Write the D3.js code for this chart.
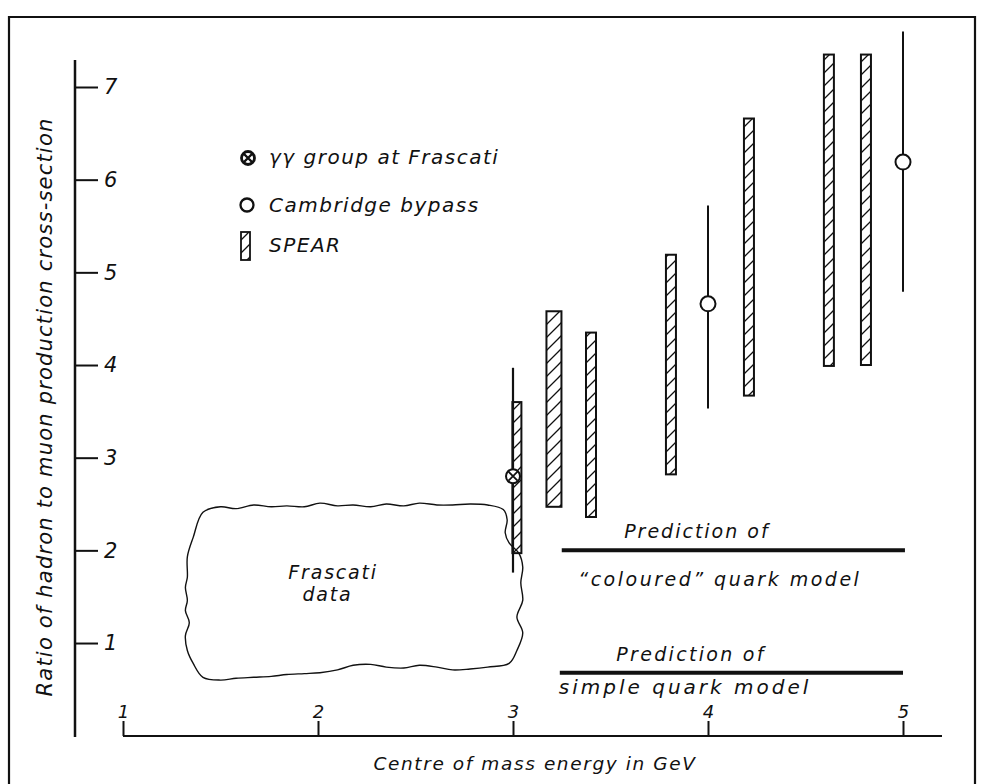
<!DOCTYPE html>
<html>
<head>
<meta charset="utf-8">
<script src="https://cdn.jsdelivr.net/npm/d3@7/dist/d3.min.js"></script>
<style>
  html, body { margin: 0; padding: 0; background: #fff; }
  svg { display: block; }
  text { font-family: "DejaVu Sans", sans-serif; font-style: italic; fill: #111; }
</style>
</head>
<body>
<svg id="chart" width="983" height="784"></svg>
<script>
// ---------------- data ----------------
const energyTicks = [1, 2, 3, 4, 5];
const ratioTicks = [1, 2, 3, 4, 5, 6, 7];

// SPEAR (hatched bars: low..high)
const spearE    = [3.02, 3.21, 3.40, 3.81, 4.21, 4.62, 4.81];
const spearLow  = [1.97, 2.47, 2.36, 2.82, 3.67, 3.99, 4.00];
const spearHigh = [3.60, 4.58, 4.35, 5.19, 6.66, 7.35, 7.35];

// Cambridge bypass (open circles with error bars)
const cambE    = [4.0, 5.0];
const cambR    = [4.66, 6.19];
const cambLow  = [3.53, 4.79];
const cambHigh = [5.72, 7.60];

// gamma-gamma group at Frascati
const frasE    = [3.0];
const frasR    = [2.80];
const frasLow  = [1.76];
const frasHigh = [3.97];

// model predictions (horizontal lines)
const predR     = [2.0, 0.68];
const predStart = [3.25, 3.24];
const predEnd   = [5.01, 5.0];
const predTop   = ["Prediction of", "Prediction of"];
const predBot   = ["\u201Ccoloured\u201D quark model", "simple quark model"];

// Frascati data region outline [energy, ratio]
const frascatiE = [1.41, 1.50, 1.58, 1.67, 1.76, 1.84, 1.93, 2.01, 2.10, 2.18, 2.27, 2.35, 2.44, 2.52, 2.61, 2.69, 2.78, 2.87, 2.95, 2.97, 2.96, 2.98, 3.03, 3.05, 3.04, 3.05, 3.02, 3.05, 3.02, 2.98, 2.87, 2.78, 2.69, 2.61, 2.52, 2.44, 2.35, 2.27, 2.18, 2.10, 2.01, 1.93, 1.84, 1.76, 1.67, 1.58, 1.50, 1.41, 1.36, 1.33, 1.32, 1.34, 1.32, 1.33, 1.32, 1.33, 1.33, 1.36];
const frascatiR = [2.41, 2.47, 2.45, 2.49, 2.47, 2.48, 2.47, 2.51, 2.48, 2.49, 2.47, 2.50, 2.48, 2.51, 2.49, 2.49, 2.50, 2.49, 2.44, 2.33, 2.19, 2.08, 1.97, 1.82, 1.65, 1.46, 1.28, 1.11, 0.92, 0.78, 0.74, 0.72, 0.71, 0.74, 0.76, 0.73, 0.74, 0.77, 0.76, 0.71, 0.68, 0.67, 0.66, 0.64, 0.63, 0.62, 0.60, 0.63, 0.78, 0.92, 1.08, 1.22, 1.35, 1.46, 1.60, 1.71, 1.93, 2.14];

const legendLabels = ["\u03B3\u03B3 group at Frascati", "Cambridge bypass", "SPEAR"];
const xTitle = "Centre of mass energy in GeV";
const yTitle = "Ratio of hadron to muon production cross-section";

// ---------------- layout ----------------
const svg = d3.select("#chart");
const x = d3.scaleLinear().domain([1, 5]).range([123, 903]);
const y = d3.scaleLinear().domain([0, 7]).range([735.7, 87]);
const ink = "#111";

// frame
svg.append("path")
  .attr("d", "M9,800 L9,17 L975,17 L975,800")
  .attr("fill", "none").attr("stroke", ink).attr("stroke-width", 2.2);

// hatch pattern
const defs = svg.append("defs");
defs.append("pattern")
  .attr("id", "hatch").attr("patternUnits", "userSpaceOnUse")
  .attr("width", 13).attr("height", 13)
  .append("path")
  .attr("d", "M-1,1 L1,-1 M0,13 L13,0 M12,14 L14,12")
  .attr("stroke", ink).attr("stroke-width", 1.3);

// y axis
const yAxis = d3.axisRight(y).tickValues(ratioTicks).tickSize(23).tickPadding(6)
  .tickFormat(d3.format("d"));
const gy = svg.append("g").attr("transform", "translate(75,0)").call(yAxis);
gy.select(".domain").remove();
gy.append("line").attr("x1", 0).attr("x2", 0).attr("y1", 60).attr("y2", 737)
  .attr("stroke", ink).attr("stroke-width", 2.5);
gy.selectAll(".tick line").attr("stroke", ink).attr("stroke-width", 2);
gy.selectAll(".tick text").attr("fill", ink).attr("font-size", 21)
  .attr("font-family", "DejaVu Sans").attr("font-style", "italic");

// x axis
const xAxis = d3.axisTop(x).tickValues(energyTicks).tickSize(15).tickPadding(3)
  .tickFormat(d3.format("d"));
const gx = svg.append("g").attr("transform", "translate(0,736)").call(xAxis);
gx.select(".domain").remove();
gx.append("line").attr("x1", 123).attr("x2", 942).attr("y1", 0).attr("y2", 0)
  .attr("stroke", ink).attr("stroke-width", 2.2);
gx.selectAll(".tick line").attr("stroke", ink).attr("stroke-width", 2);
gx.selectAll(".tick text").attr("fill", ink).attr("font-size", 18)
  .attr("font-family", "DejaVu Sans").attr("font-style", "italic");

// axis titles
svg.append("text").attr("x", 535).attr("y", 770).attr("text-anchor", "middle")
  .attr("font-size", 18.5).attr("letter-spacing", 1.6).text(xTitle);
svg.append("text").attr("transform", "translate(52,407) rotate(-90)")
  .attr("text-anchor", "middle").attr("font-size", 21).attr("letter-spacing", 1.2)
  .text(yTitle);

// Frascati data region
svg.append("path")
  .datum(d3.range(frascatiE.length))
  .attr("d", d3.line().x(i => x(frascatiE[i])).y(i => y(frascatiR[i])).curve(d3.curveCatmullRomClosed))
  .attr("fill", "none").attr("stroke", ink).attr("stroke-width", 1.4);
svg.append("text").attr("x", x(1.848)).attr("y", y(1.69)).attr("font-size", 19)
  .attr("letter-spacing", 1.8).text("Frascati");
svg.append("text").attr("x", x(1.92)).attr("y", y(1.45)).attr("font-size", 19)
  .attr("letter-spacing", 1.8).text("data");

// prediction lines
predR.forEach((r, i) => {
  svg.append("line").attr("x1", x(predStart[i])).attr("x2", x(predEnd[i]))
    .attr("y1", y(r)).attr("y2", y(r))
    .attr("stroke", ink).attr("stroke-width", 4);
});
svg.append("text").attr("x", x(3.57)).attr("y", y(predR[0]) - 12).attr("font-size", 19)
  .attr("letter-spacing", 2).text(predTop[0]);
svg.append("text").attr("x", x(3.335)).attr("y", y(predR[0]) + 36).attr("font-size", 19)
  .attr("letter-spacing", 2.5).text(predBot[0]);
svg.append("text").attr("x", x(3.53)).attr("y", y(predR[1]) - 12).attr("font-size", 19)
  .attr("letter-spacing", 2.3).text(predTop[1]);
svg.append("text").attr("x", x(3.235)).attr("y", y(predR[1]) + 21).attr("font-size", 20)
  .attr("letter-spacing", 3).text(predBot[1]);

// SPEAR bars
const barWidths = [9, 15, 10, 10, 10, 10, 10];
spearE.forEach((e, i) => {
  const w = barWidths[i];
  svg.append("rect")
    .attr("x", x(e) - w / 2).attr("width", w)
    .attr("y", y(spearHigh[i])).attr("height", y(spearLow[i]) - y(spearHigh[i]))
    .attr("fill", "url(#hatch)").attr("stroke", ink).attr("stroke-width", 2);
});

// Frascati gamma-gamma point
frasE.forEach((e, i) => {
  svg.append("line").attr("x1", x(e)).attr("x2", x(e))
    .attr("y1", y(frasHigh[i])).attr("y2", y(frasLow[i]))
    .attr("stroke", ink).attr("stroke-width", 2.2);
  const cx = x(e), cy = y(frasR[i]);
  svg.append("circle").attr("cx", cx).attr("cy", cy).attr("r", 7)
    .attr("fill", "#fff").attr("stroke", ink).attr("stroke-width", 2);
  svg.append("path")
    .attr("d", `M${cx-4.5},${cy-4.5}L${cx+4.5},${cy+4.5}M${cx+4.5},${cy-4.5}L${cx-4.5},${cy+4.5}`)
    .attr("stroke", ink).attr("stroke-width", 1.8);
});

// Cambridge points
cambE.forEach((e, i) => {
  svg.append("line").attr("x1", x(e)).attr("x2", x(e))
    .attr("y1", y(cambHigh[i])).attr("y2", y(cambLow[i]))
    .attr("stroke", ink).attr("stroke-width", 2);
  svg.append("circle").attr("cx", x(e)).attr("cy", y(cambR[i])).attr("r", 7.5)
    .attr("fill", "#fff").attr("stroke", ink).attr("stroke-width", 2);
});

// legend
const lg = svg.append("g");
lg.append("circle").attr("cx", 248).attr("cy", 158).attr("r", 6.5)
  .attr("fill", "#fff").attr("stroke", ink).attr("stroke-width", 2.8);
lg.append("path").attr("d", "M244,154L252,162M252,154L244,162")
  .attr("stroke", ink).attr("stroke-width", 2.4);
lg.append("circle").attr("cx", 247).attr("cy", 205).attr("r", 6.5)
  .attr("fill", "#fff").attr("stroke", ink).attr("stroke-width", 2.3);
lg.append("rect").attr("x", 241).attr("y", 232).attr("width", 9).attr("height", 28)
  .attr("fill", "url(#hatch)").attr("stroke", ink).attr("stroke-width", 1.8);
const legendY = [164, 212, 252];
legendLabels.forEach((t, i) => {
  lg.append("text").attr("x", 269).attr("y", legendY[i]).attr("font-size", 20)
    .attr("letter-spacing", 1.5).text(t);
});
</script>
</body>
</html>
